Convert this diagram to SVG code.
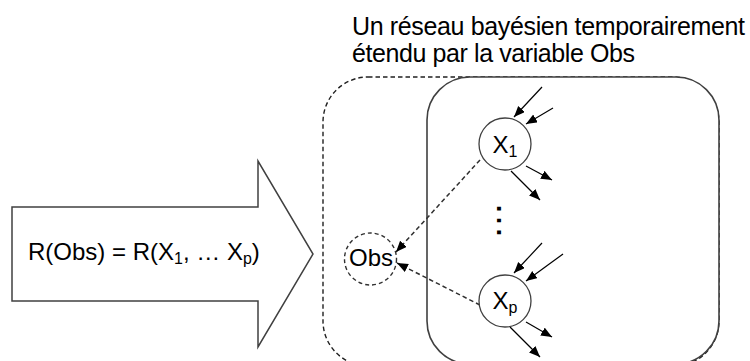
<svg xmlns="http://www.w3.org/2000/svg" width="750" height="361" viewBox="0 0 750 361">
<style>
  text { font-family: "Liberation Sans", Arial, sans-serif; fill: #000; font-kerning: none; }
  .big { font-size: 24px; }
  .title { font-size: 25px; }
  .sub { font-size: 16px; }
  .node { fill: #fff; stroke: #404040; stroke-width: 1.3; }
  .dnode { fill: #fff; stroke: #303030; stroke-width: 1.4; stroke-dasharray: 4 3; }
  .edge { stroke: #000; stroke-width: 1.2; fill: none; marker-end: url(#ah); }
  .dedge { stroke: #303030; stroke-width: 1.5; fill: none; stroke-dasharray: 4.5 3; marker-end: url(#ah); }
</style>
<defs>
  <marker id="ah" markerUnits="userSpaceOnUse" markerWidth="12" markerHeight="10" refX="11" refY="4.5" orient="auto">
    <path d="M0,0 L11,4.5 L0,9 z" fill="#000"/>
  </marker>
</defs>
<rect width="750" height="361" fill="#fff"/>

<g id="title">
  <text class="title" x="352" y="35" textLength="393" lengthAdjust="spacing">Un réseau bayésien temporairement</text>
  <text class="title" x="352" y="62" textLength="283" lengthAdjust="spacing">étendu par la variable Obs</text>
</g>

<g id="bigarrow">
  <polygon points="12,207 258,207 258,161 313,254 258,347 258,301 12,301" fill="#fff" stroke="#404040" stroke-width="1.5"/>
  <text class="big" x="28" y="260">R(Obs) = R(X<tspan class="sub" dy="4">1</tspan><tspan dy="-4">, … X</tspan><tspan class="sub" dy="4">p</tspan><tspan dy="-4">)</tspan></text>
</g>

<g id="extended-box">
  <rect x="323" y="77" width="396" height="289" rx="45" ry="45" fill="none" stroke="#202020" stroke-width="1.4" stroke-dasharray="4.5 3"/>
</g>

<g id="bn-box">
  <rect x="427" y="77" width="292" height="287" rx="43" ry="43" fill="#fff" stroke="#404040" stroke-width="1.6"/>
</g>

<g id="connectors">
  <line class="edge" x1="542" y1="87" x2="514" y2="117"/>
  <line class="edge" x1="553" y1="108" x2="526" y2="124"/>
  <line class="edge" x1="526" y1="166" x2="552" y2="180"/>
  <line class="edge" x1="511" y1="171" x2="540" y2="200"/>
  <line class="edge" x1="542" y1="243" x2="514" y2="273"/>
  <line class="edge" x1="563" y1="254" x2="526" y2="281"/>
  <line class="edge" x1="526" y1="322" x2="552" y2="337"/>
  <line class="edge" x1="510" y1="327" x2="540" y2="357"/>
  <line class="dedge" x1="480" y1="160" x2="396" y2="252"/>
  <line class="dedge" x1="480" y1="305" x2="397" y2="263"/>
</g>

<g id="X1">
  <circle class="node" cx="505" cy="144" r="26"/>
  <text class="big" x="492.5" y="153">X<tspan class="sub" dy="4">1</tspan></text>
</g>

<g id="dots">
  <text transform="translate(497,201.7) rotate(90)" style="font-size:37.5px">…</text>
</g>

<g id="Xp">
  <circle class="node" cx="505" cy="301" r="26"/>
  <text class="big" x="492.5" y="309">X<tspan class="sub" dy="4">p</tspan></text>
</g>

<g id="Obs">
  <circle class="dnode" cx="370.5" cy="259" r="26"/>
  <text class="big" x="349" y="266">Obs</text>
</g>
</svg>
